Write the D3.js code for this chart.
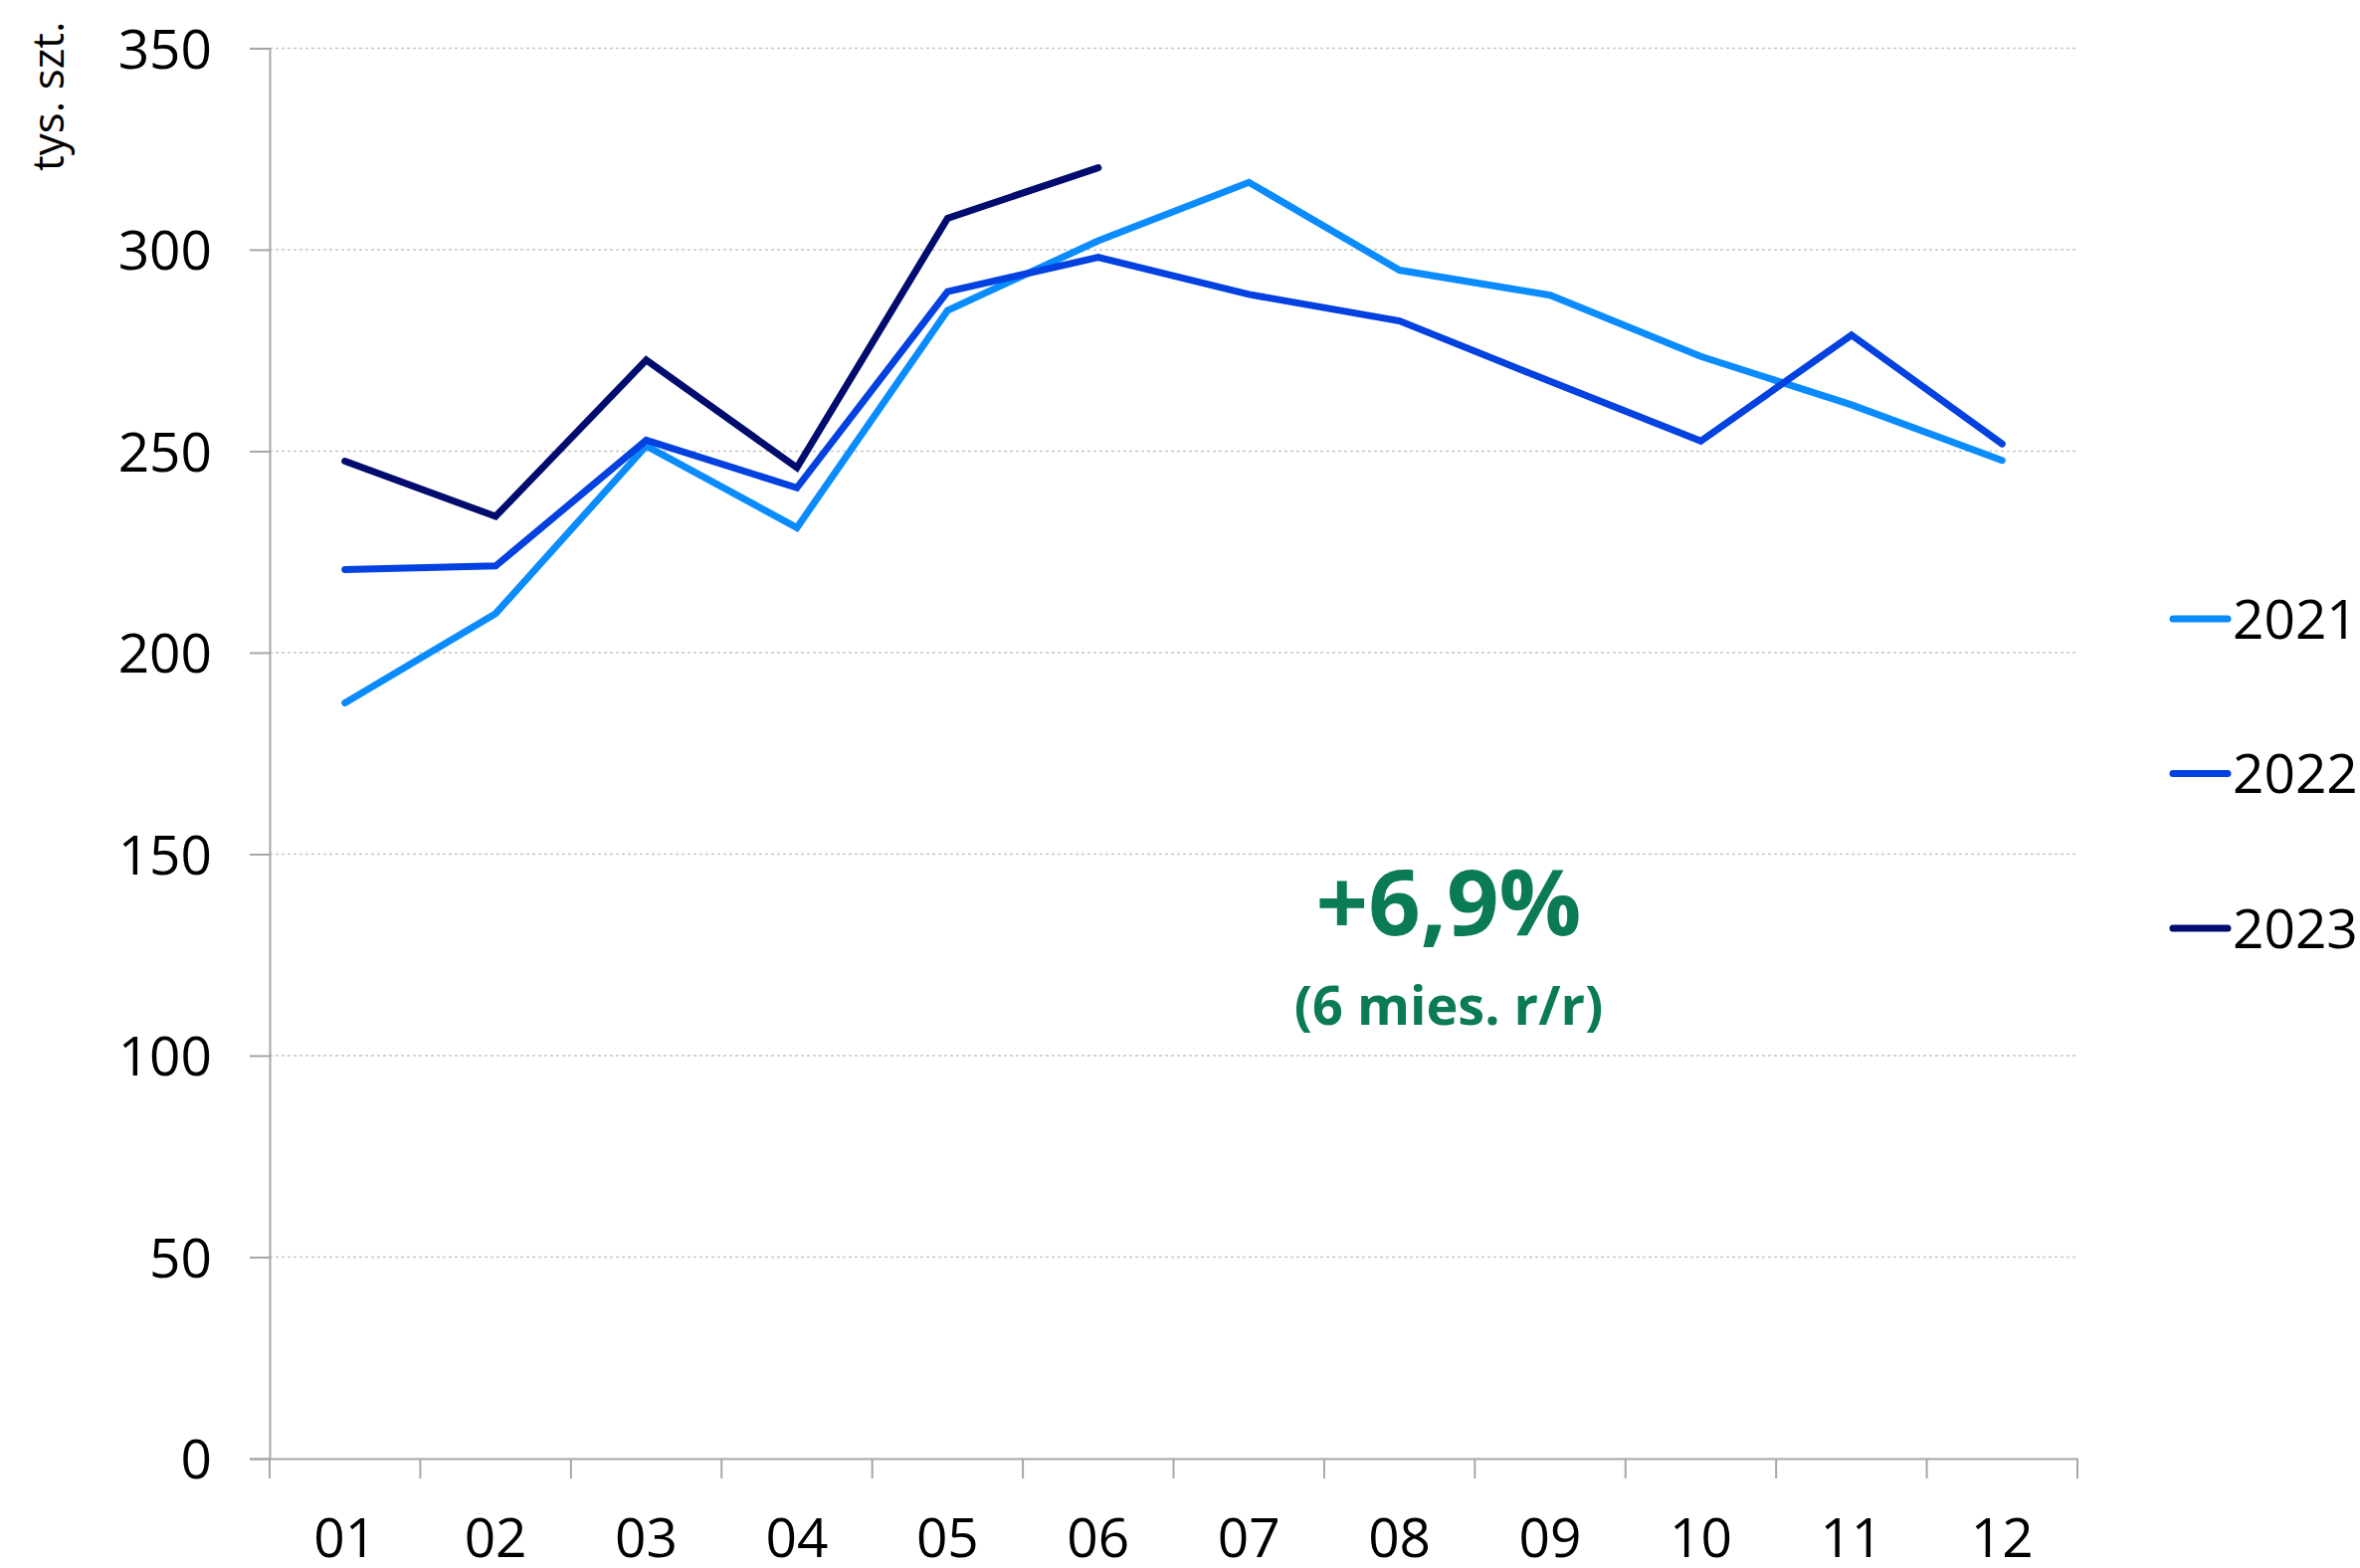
<!DOCTYPE html>
<html>
<head>
<meta charset="utf-8">
<script src="https://cdn.jsdelivr.net/npm/d3@7"></script>
<style>
body{margin:0;background:#fff}
text{font-family:"Open Sans",sans-serif}
</style>
</head>
<body>
<div id="chart"></div>
<script>
var width = 2372
var height = 1576
var months = ["01","02","03","04","05","06","07","08","09","10","11","12"]
var years = ["2021","2022","2023"]
var colors = ["#0a8cff","#0341e0","#020c6e"]
var v2021 = [187.5,209.7,251.3,231.0,284.9,302.2,316.7,294.9,288.7,273.5,261.5,247.7]
var v2022 = [220.6,221.5,252.7,240.9,289.6,298.1,288.9,282.3,267.3,252.5,278.8,251.8]
var v2023 = [247.5,233.8,272.6,245.9,307.8,320.3]
var yTicks = [0,50,100,150,200,250,300,350]
var series = [v2021,v2022,v2023]

var plotLeft = 271, plotRight = 2088, plotTop = 48.4, plotBottom = 1466

var svg = d3.select("#chart").append("svg")
	.attr("width",width)
	.attr("height",height)

var x = d3.scaleBand().domain(months).range([plotLeft,plotRight])
var y = d3.scaleLinear().domain([0,350]).range([plotBottom,plotTop])

// gridlines
svg.selectAll(".grid")
	.data(yTicks.filter(function(d){return d>0}))
	.enter()
	.append("line")
	.attr("x1",plotLeft).attr("x2",plotRight)
	.attr("y1",function(d){return y(d)}).attr("y2",function(d){return y(d)})
	.style("stroke","#c6c6c6")
	.style("stroke-width",1.5)
	.style("stroke-dasharray","3,3")

// y axis
var yAxis = d3.axisLeft(y).tickValues(yTicks).tickSize(20).tickPadding(38)
var gy = svg.append("g").attr("transform","translate("+plotLeft+",0)").call(yAxis)
gy.select(".domain").style("stroke","#a6a6a6").style("stroke-width",2)
gy.selectAll(".tick line").style("stroke","#a6a6a6").style("stroke-width",2)
gy.selectAll(".tick text").style("font-size","55px").style("fill","#000")
	.attr("dy","0.36em")

// x axis
var xAxis = d3.axisBottom(x).tickSize(0).tickPadding(60)
var gx = svg.append("g").attr("transform","translate(0,"+plotBottom+")").call(xAxis)
gx.select(".domain").style("stroke","#a6a6a6").style("stroke-width",2)
gx.selectAll(".tick text").style("font-size","55px").style("fill","#000")
// category boundary ticks
gx.selectAll(".bound")
	.data(months.concat(["end"]))
	.enter()
	.append("line")
	.attr("x1",function(d,i){return plotLeft+i*x.step()})
	.attr("x2",function(d,i){return plotLeft+i*x.step()})
	.attr("y1",0).attr("y2",20)
	.style("stroke","#a6a6a6").style("stroke-width",2)

svg.append("text")
	.attr("transform","translate(64,172) rotate(-90)")
	.style("font-size","44px")
	.text("tys. szt.")

// lines
var line = d3.line()
	.x(function(d,i){return x(months[i])+x.bandwidth()/2})
	.y(function(d){return y(d)})

svg.selectAll(".series")
	.data(series)
	.enter()
	.append("path")
	.attr("d",line)
	.style("fill","none")
	.style("stroke",function(d,i){return colors[i]})
	.style("stroke-width",7)
	.style("stroke-linejoin","miter")
	.style("stroke-linecap","round")

// legend
var legend = svg.selectAll(".legend")
	.data(years)
	.enter()
	.append("g")
	.attr("transform",function(d,i){return "translate(2184,"+(622+i*155.5)+")"})
legend.append("line")
	.attr("x1",0).attr("x2",55).attr("y1",0).attr("y2",0)
	.style("stroke",function(d,i){return colors[i]})
	.style("stroke-width",7)
	.style("stroke-linecap","round")
legend.append("text")
	.attr("x",60).attr("dy","0.36em")
	.style("font-size","55px")
	.text(function(d){return d})

// annotation
svg.append("text")
	.attr("x",1456).attr("y",940)
	.attr("text-anchor","middle")
	.style("font-size","92px").style("font-weight","bold").style("fill","#0b7b55")
	.text("+6,9%")
svg.append("text")
	.attr("x",1456).attr("y",1030)
	.attr("text-anchor","middle")
	.style("font-size","54px").style("font-weight","bold").style("fill","#0b7b55")
	.text("(6 mies. r/r)")
</script>
</body>
</html>
